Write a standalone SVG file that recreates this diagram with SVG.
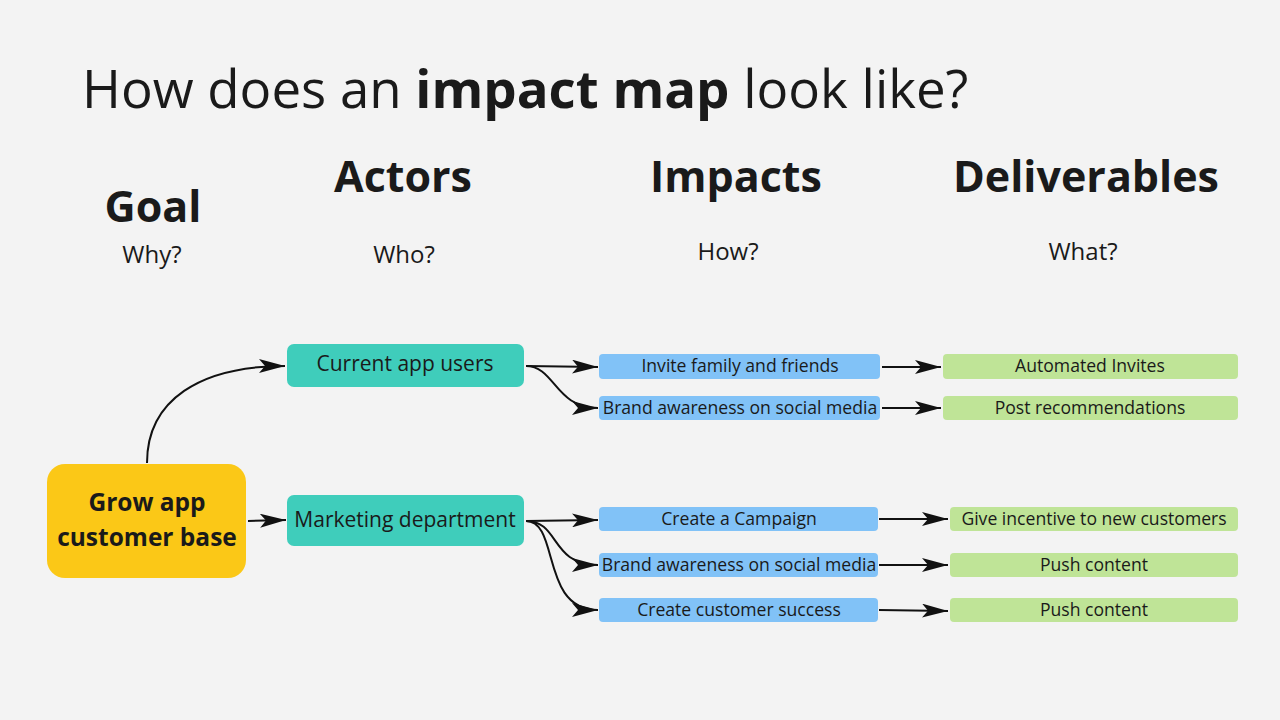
<svg xmlns="http://www.w3.org/2000/svg" width="1280" height="720" viewBox="0 0 1280 720">
<defs>
<marker id="arr" markerUnits="userSpaceOnUse" markerWidth="28" markerHeight="14" refX="26" refY="7" orient="auto">
<path d="M0,0 L26,7 L0,14 L6,7 Z" fill="#111"/>
</marker>
<style>
text{font-family:"Open Sans","Noto Sans","Liberation Sans",sans-serif;fill:#1a1a1a}
.h{font-weight:700;font-size:43px;text-anchor:middle}
.s{font-size:24px;text-anchor:middle}
.goal{fill:#FBC817}
.actor{fill:#3FCDBB}
.imp{fill:#81C2F7}
.del{fill:#BFE497}
.t20{font-size:21px;text-anchor:middle}
.t17{font-size:17.6px;text-anchor:middle}
.c{fill:none;stroke:#111;stroke-width:2;marker-end:url(#arr)}
</style>
</defs>
<rect width="1280" height="720" fill="#F3F3F3"/>
<text x="82" y="108" font-size="52.8">How does an <tspan font-weight="700">impact map</tspan> look like?</text>
<text class="h" x="153" y="222">Goal</text>
<text class="h" x="403" y="192">Actors</text>
<text class="h" x="736" y="192">Impacts</text>
<text class="h" x="1086" y="192">Deliverables</text>
<text class="s" x="152" y="263">Why?</text>
<text class="s" x="404" y="263">Who?</text>
<text class="s" x="728" y="260">How?</text>
<text class="s" x="1083" y="260">What?</text>
<g id="connectors">
<path class="c" d="M147,463 C147,400 200,366 285,366"/>
<path class="c" d="M248,521 L286,520"/>
<path class="c" d="M526,366 L598,367"/>
<path class="c" d="M526,366 C555,366 555,408 598,408"/>
<path class="c" d="M526,521 L598,520"/>
<path class="c" d="M526,521 C560,521 550,565 598,565"/>
<path class="c" d="M526,521 C560,521 540,610 598,610"/>
<path class="c" d="M882,367 L941,367"/>
<path class="c" d="M882,408 L941,408"/>
<path class="c" d="M879,519 L948,519"/>
<path class="c" d="M879,565 L948,565"/>
<path class="c" d="M879,610 L948,611"/>
</g>
<g id="goal"><rect class="goal" x="47" y="464" width="199" height="114" rx="18"/><text x="147" y="511" font-size="24.5" font-weight="700" text-anchor="middle">Grow app</text><text x="147" y="546" font-size="24.5" font-weight="700" text-anchor="middle">customer base</text></g>
<g id="actor1"><rect class="actor" x="287" y="344" width="237" height="43" rx="7"/><text class="t20" x="405" y="371">Current app users</text></g>
<g id="actor2"><rect class="actor" x="287" y="495" width="237" height="51" rx="7"/><text class="t20" x="405" y="527">Marketing department</text></g>
<g id="impact1"><rect class="imp" x="599" y="354" width="281" height="25" rx="4"/><text class="t17" x="740" y="372">Invite family and friends</text></g>
<g id="impact2"><rect class="imp" x="599" y="396" width="281" height="24" rx="4"/><text class="t17" x="740" y="414">Brand awareness on social media</text></g>
<g id="impact3"><rect class="imp" x="599" y="507" width="279" height="24" rx="4"/><text class="t17" x="739" y="525">Create a Campaign</text></g>
<g id="impact4"><rect class="imp" x="599" y="553" width="279" height="24" rx="4"/><text class="t17" x="739" y="571">Brand awareness on social media</text></g>
<g id="impact5"><rect class="imp" x="599" y="598" width="279" height="24" rx="4"/><text class="t17" x="739" y="616">Create customer success</text></g>
<g id="del1"><rect class="del" x="943" y="354" width="295" height="25" rx="4"/><text class="t17" x="1090" y="372">Automated Invites</text></g>
<g id="del2"><rect class="del" x="943" y="396" width="295" height="24" rx="4"/><text class="t17" x="1090" y="414">Post recommendations</text></g>
<g id="del3"><rect class="del" x="950" y="507" width="288" height="24" rx="4"/><text class="t17" x="1094" y="525">Give incentive to new customers</text></g>
<g id="del4"><rect class="del" x="950" y="553" width="288" height="24" rx="4"/><text class="t17" x="1094" y="571">Push content</text></g>
<g id="del5"><rect class="del" x="950" y="598" width="288" height="24" rx="4"/><text class="t17" x="1094" y="616">Push content</text></g>
</svg>
